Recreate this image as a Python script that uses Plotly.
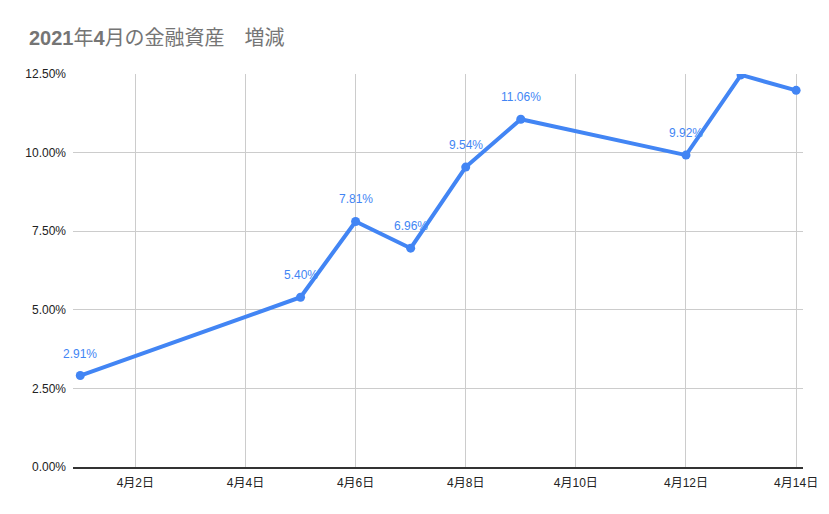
import plotly.graph_objects as go

# 2021年4月の金融資産 増減
dates = ['2021-04-01', '2021-04-05', '2021-04-06', '2021-04-07', '2021-04-08',
         '2021-04-09', '2021-04-12', '2021-04-13', '2021-04-14']
values = [0.0291, 0.0540, 0.0781, 0.0696, 0.0954, 0.1106, 0.0992, 0.1247, 0.1198]

tick_dates = ['2021-04-02', '2021-04-04', '2021-04-06', '2021-04-08',
              '2021-04-10', '2021-04-12', '2021-04-14']
tick_labels = ['4月2日', '4月4日', '4月6日', '4月8日', '4月10日', '4月12日', '4月14日']

y_max = 0.125
blue = '#4285F4'
font = 'Liberation Sans, Arial, Noto Sans CJK JP'

W, H = 829, 514

fig = go.Figure()
fig.add_trace(go.Scatter(
    x=dates, y=values,
    mode='lines+markers',
    line=dict(color=blue, width=4),
    marker=dict(color=blue, size=9),
    cliponaxis=True,
    showlegend=False,
))

# ラベル(上端からはみ出るものは表示しない)
for d, v in zip(dates, values):
    if v + 0.0065 > y_max:
        continue
    fig.add_annotation(x=d, y=v, text=f'{v*100:.2f}%', showarrow=False,
                       yshift=22, font=dict(color=blue, size=12, family=font))

fig.update_layout(
    width=W, height=H,
    margin=dict(l=73, r=26, t=74, b=47),
    plot_bgcolor='white', paper_bgcolor='white',
    font=dict(family=font, size=12, color='#222222'),
    title=dict(text='<b>2021</b>年<b>4</b>月の金融資産　増減', x=29/W, xanchor='left',
               xref='container', y=1-38/H, yref='container', yanchor='middle',
               font=dict(size=20, color='#757575', family=font)),
)
fig.update_xaxes(
    type='date',
    range=['2021-03-31 20:50', '2021-04-14 03:00'],
    tickvals=tick_dates, ticktext=tick_labels,
    showgrid=True, gridcolor='#cccccc', gridwidth=1,
    showline=True, linecolor='#333333', linewidth=1.5,
    ticks='', ticklabelstandoff=4,
)
fig.update_yaxes(
    range=[0, y_max], dtick=0.025, tickformat='.2%',
    showgrid=True, gridcolor='#cccccc', gridwidth=1,
    zeroline=False, ticks='', ticklabelstandoff=6,
)

# ページ既定の余白を消す
fig.write_html('out.html', config={'displayModeBar': False},
               post_script="document.body.style.margin='0';document.body.style.overflow='hidden';")
